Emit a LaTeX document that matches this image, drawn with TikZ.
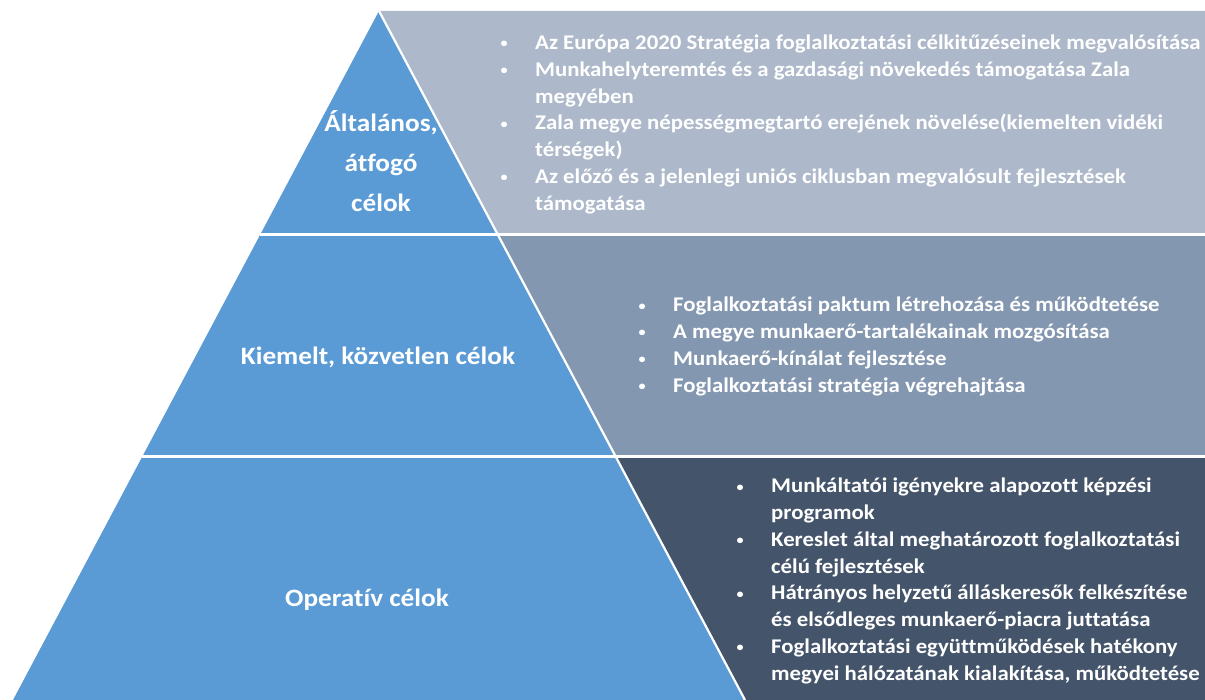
\documentclass[tikz,border=0pt]{standalone}
\usepackage{fontspec}
\setmainfont{Carlito}
\newfontfamily\wideFont[FakeStretch=1.09, Ligatures=NoCommon]{Carlito}
\usetikzlibrary{calc}
\definecolor{pyramidBlue}{HTML}{5B9BD5}
\definecolor{panelLight}{HTML}{ADB9CA}
\definecolor{panelMid}{HTML}{8497B0}
\definecolor{panelDark}{HTML}{44546A}
\newcommand{\bulletItem}{\makebox[0pt]{\raisebox{1.6pt}{\fontsize{13}{13}\selectfont\textbullet}}\hspace{31pt}}
\newcommand{\contItem}{\hspace*{31pt}}

\begin{document}
\begin{tikzpicture}[x=1pt, y=-1pt,
    separator/.style={white, line width=2.2pt},
    goalLabel/.style={text=white, inner sep=0pt, anchor=base, font=\wideFont\fontsize{25}{40}\selectfont\bfseries},
    itemList/.style={text=white, inner sep=0pt, anchor=base west, font=\wideFont\fontsize{20.9}{26.8}\selectfont\bfseries}]
    \useasboundingbox (0,0) rectangle (1205,700);
    \coordinate (apex) at (379,11);
    \coordinate (baseLeft) at (13,700);
    \coordinate (baseRight) at (745,700);
    \coordinate (edgeR) at (1205,0);
    \coordinate (cutTopL) at ($(apex)!0.3244!(baseLeft)$);
    \coordinate (cutTopR) at ($(apex)!0.3244!(baseRight)$);
    \coordinate (cutBotL) at ($(apex)!0.6466!(baseLeft)$);
    \coordinate (cutBotR) at ($(apex)!0.6466!(baseRight)$);

    \fill[pyramidBlue] (apex) -- (baseLeft) -- (baseRight) -- cycle;
    \fill[panelLight] (apex) -- (apex -| edgeR) -- (cutTopR -| edgeR) -- (cutTopR) -- cycle;
    \fill[panelMid] (cutTopR) -- (cutTopR -| edgeR) -- (cutBotR -| edgeR) -- (cutBotR) -- cycle;
    \fill[panelDark] (cutBotR) -- (cutBotR -| edgeR) -- (baseRight -| edgeR) -- (baseRight) -- cycle;
    \draw[separator] (apex) -- (baseRight);
    \draw[separator] (cutTopL) -- (cutTopL -| edgeR);
    \draw[separator] (cutBotL) -- (cutBotL -| edgeR);

    \node[goalLabel] (generalGoal) at (381,131.7) {\begin{tabular}[t]{@{}c@{}}Általános,\\átfogó\\célok\end{tabular}};
    \node[goalLabel] (keyGoal) at (378,365) {Kiemelt, közvetlen célok};
    \node[goalLabel] (operGoal) at (367,606) {Operatív célok};

    \node[itemList] (generalList) at (504,49.5) {\begin{tabular}[t]{@{}l@{}}
        \bulletItem Az Európa 2020 Stratégia foglalkoztatási célkitűzéseinek megvalósítása\\
        \bulletItem Munkahelyteremtés és a gazdasági  növekedés támogatása Zala\\
        \contItem megyében\\
        \bulletItem Zala megye népességmegtartó erejének növelése(kiemelten vidéki\\
        \contItem térségek)\\
        \bulletItem Az előző és a jelenlegi uniós ciklusban megvalósult fejlesztések\\
        \contItem támogatása
      \end{tabular}};
    \node[itemList] (keyList) at (642,311.7) {\begin{tabular}[t]{@{}l@{}}
        \bulletItem Foglalkoztatási paktum létrehozása és működtetése\\
        \bulletItem A megye munkaerő-tartalékainak mozgósítása\\
        \bulletItem Munkaerő-kínálat fejlesztése\\
        \bulletItem Foglalkoztatási stratégia végrehajtása
      \end{tabular}};
    \node[itemList] (operList) at (740,492.7) {\begin{tabular}[t]{@{}l@{}}
        \bulletItem Munkáltatói igényekre alapozott képzési\\
        \contItem programok\\
        \bulletItem Kereslet által meghatározott foglalkoztatási\\
        \contItem célú fejlesztések\\
        \bulletItem Hátrányos helyzetű álláskeresők felkészítése\\
        \contItem és elsődleges munkaerő-piacra juttatása\\
        \bulletItem Foglalkoztatási együttműködések hatékony\\
        \contItem megyei hálózatának kialakítása, működtetése
      \end{tabular}};
\end{tikzpicture}
\end{document}
